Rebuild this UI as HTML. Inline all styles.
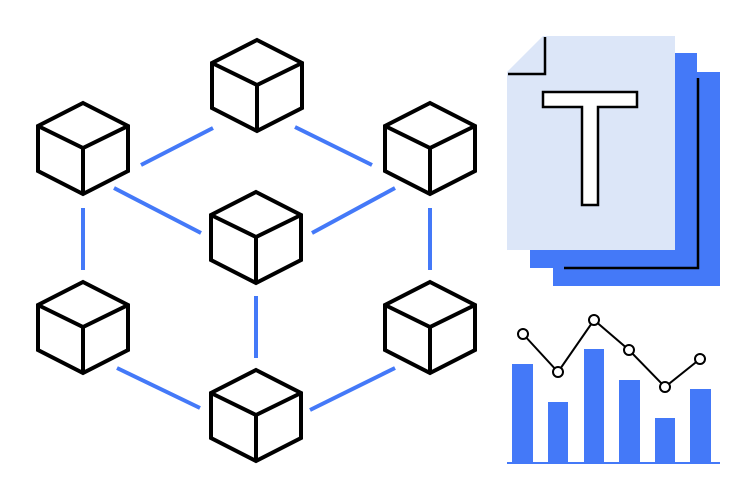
<!DOCTYPE html>
<html><head><style>html,body{margin:0;padding:0;background:#fff;}svg{display:block}</style></head>
<body>
<svg width="753" height="500" viewBox="0 0 753 500" xmlns="http://www.w3.org/2000/svg">
<defs>
<g id="cube" fill="none" stroke="#000" stroke-width="4" stroke-linejoin="miter">
<path d="M0,0 L45,23 L45,68 L0,91 L-45,68 L-45,23 Z"/>
<path d="M-45,23 L0,45 L45,23 M0,45 L0,91"/>
</g>
</defs>
<g stroke="#4479f8" stroke-width="4" fill="none">
<line x1="141" y1="165" x2="213" y2="128"/>
<line x1="295" y1="127" x2="372" y2="165"/>
<line x1="114" y1="188" x2="201" y2="233"/>
<line x1="312" y1="233" x2="395" y2="188"/>
<line x1="83" y1="208" x2="83" y2="270"/>
<line x1="430" y1="208" x2="430" y2="270"/>
<line x1="256" y1="296" x2="256" y2="358"/>
<line x1="117" y1="368" x2="200" y2="408"/>
<line x1="310" y1="410" x2="395" y2="368"/>
</g>
<g fill="#fff">
<use href="#cube" x="257" y="40"/>
<use href="#cube" x="83" y="103"/>
<use href="#cube" x="430" y="103"/>
<use href="#cube" x="256" y="192"/>
<use href="#cube" x="83" y="282"/>
<use href="#cube" x="430" y="282"/>
<use href="#cube" x="256" y="370"/>
</g>
<rect x="553" y="72" width="167" height="214" fill="#4479f8"/>
<rect x="530" y="53" width="167" height="215" fill="#4479f8"/>
<path d="M698,78 L698,268 L564,268" fill="none" stroke="#000" stroke-width="2.5"/>
<path d="M543,36 L675,36 L675,250 L507,250 L507,72 Z" fill="#dce6f8"/>
<path d="M545,37 L545,74 L508,74" fill="none" stroke="#000" stroke-width="2.5"/>
<path d="M543,92 L637,92 L637,107 L598,107 L598,205 L582,205 L582,107 L543,107 Z" fill="#fff" stroke="#000" stroke-width="2.5"/>
<g fill="#4479f8">
<rect x="512" y="364" width="21" height="99"/>
<rect x="548" y="402" width="20" height="61"/>
<rect x="584" y="349" width="20" height="114"/>
<rect x="619" y="380" width="21" height="83"/>
<rect x="655" y="418" width="20" height="45"/>
<rect x="690" y="389" width="21" height="74"/>
<rect x="507" y="462" width="213" height="2"/>
</g>
<polyline points="523,334 558,372 594,320 629,350 665,387 700,359" fill="none" stroke="#000" stroke-width="2"/>
<g fill="#fff" stroke="#000" stroke-width="2">
<circle cx="523" cy="334" r="5"/><circle cx="558" cy="372" r="5"/><circle cx="594" cy="320" r="5"/>
<circle cx="629" cy="350" r="5"/><circle cx="665" cy="387" r="5"/><circle cx="700" cy="359" r="5"/>
</g>
</svg>
</body></html>
